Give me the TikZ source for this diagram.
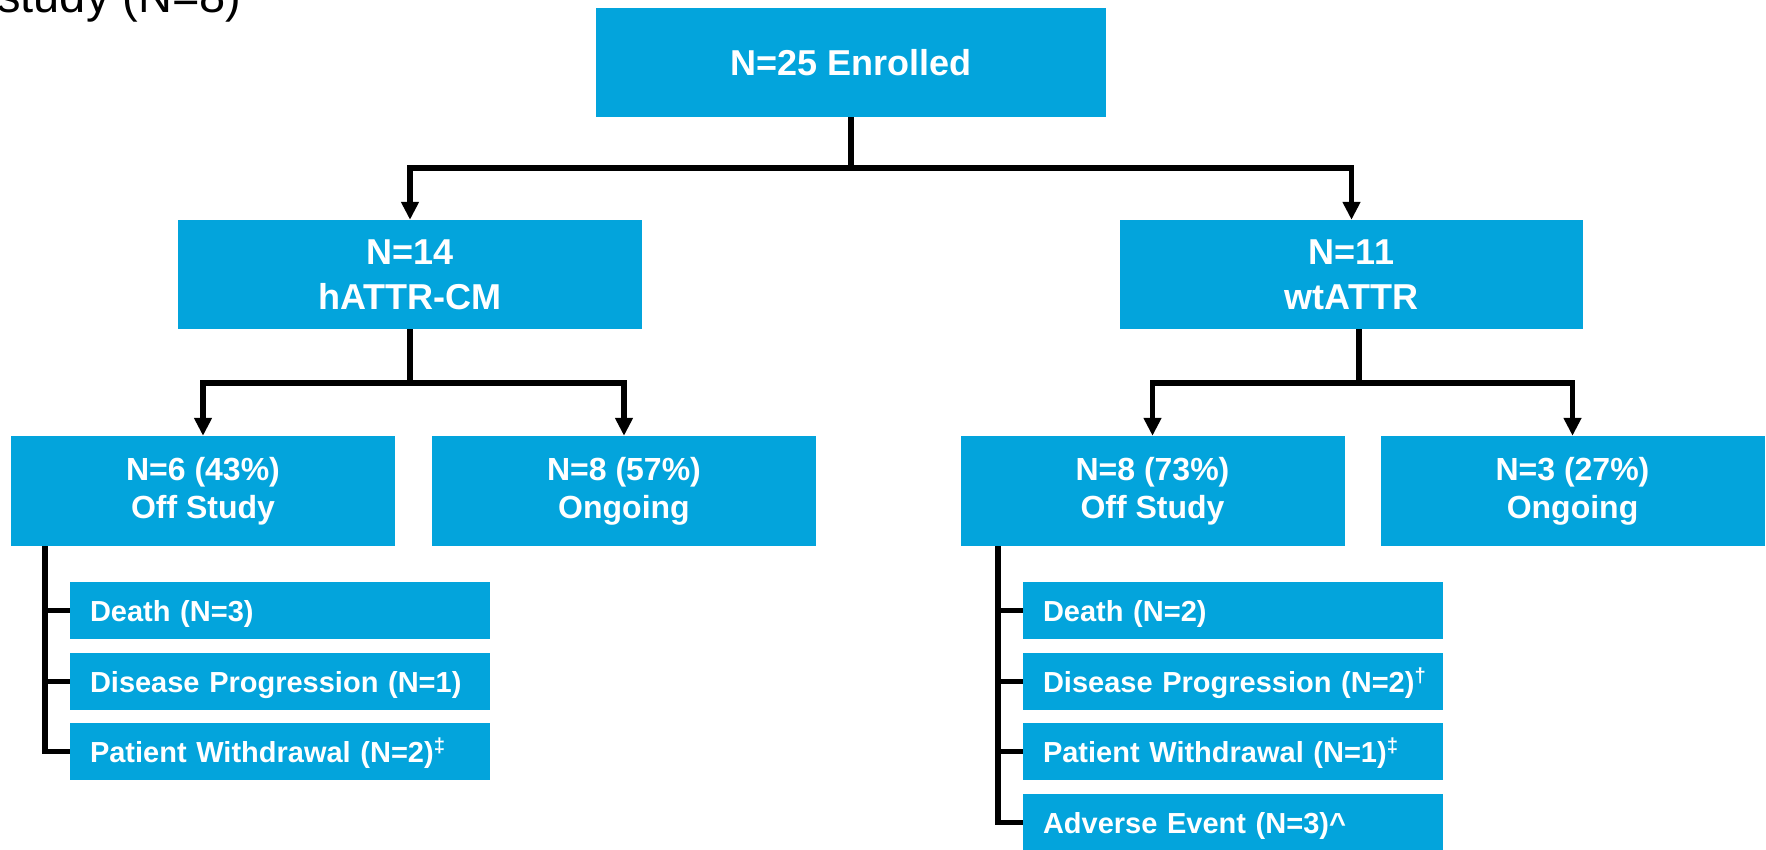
\documentclass[tikz,border=0pt]{standalone}
\usepackage{fontspec}
\setmainfont{Liberation Sans}
\usetikzlibrary{arrows.meta}
\definecolor{boxblue}{HTML}{03A4DC}
\begin{document}
\begin{tikzpicture}[x=1pt,y=-1pt,
  box/.style={fill=boxblue, text=white, align=center, inner sep=0pt},
  big/.style={box, font=\bfseries\fontsize{36}{45}\selectfont, minimum height=109pt},
  mid/.style={box, font=\bfseries\fontsize{32}{38}\selectfont, minimum height=110pt, minimum width=384pt},
  reason/.style={box, align=left, text width=380pt, inner xsep=20pt, inner ysep=0pt,
     minimum height=57pt, font=\bfseries\fontsize{29}{34}\selectfont, text height=21pt, text depth=0pt},
  conn/.style={line width=5.5pt, draw=black},
  arr/.style={conn, -{Triangle[length=18pt,width=17pt]}}
]
\useasboundingbox (0,0) rectangle (1766,849);

\node[anchor=base west, inner sep=0pt, font=\fontsize{47}{56}\selectfont] (cap) at (-3,12) {study (N=8)};

\node[big, minimum width=510pt] (top) at (851,62.5) {N=25 Enrolled};
\node[big, minimum width=464pt] (hattr) at (410,274.5) {N=14\\hATTR-CM};
\node[big, minimum width=463pt] (wt) at (1351.5,274.5) {N=11\\wtATTR};

\node[mid] (off1) at (203,491) {N=6 (43\%)\\Off Study};
\node[mid] (on1) at (624,491) {N=8 (57\%)\\Ongoing};
\node[mid] (off2) at (1152.5,491) {N=8 (73\%)\\Off Study};
\node[mid] (on2) at (1572.5,491) {N=3 (27\%)\\Ongoing};

\node[reason] (l1) at (280,610.5) {Death (N=3)};
\node[reason] (l2) at (280,681.5) {Disease Progression (N=1)};
\node[reason] (l3) at (280,751.5) {Patient Withdrawal (N=2)\rlap{\textsuperscript{‡}}};

\node[reason] (r1) at (1233,610.5) {Death (N=2)};
\node[reason] (r2) at (1233,681.5) {Disease Progression (N=2)\rlap{\textsuperscript{†}}};
\node[reason] (r3) at (1233,751.5) {Patient Withdrawal (N=1)\rlap{\textsuperscript{‡}}};
\node[reason] (r4) at (1233,822.5) {Adverse Event (N=3)\rlap{\textasciicircum}};

% level 1
\draw[arr] (top.south) -- ++(0,51) -| (hattr.north);
\draw[arr] (top.south) -- ++(0,51) -| (wt.north);
% level 2
\draw[arr] (hattr.south) -- ++(0,54) -| (off1.north);
\draw[arr] (hattr.south) -- ++(0,54) -| (on1.north);
\draw[arr] ([xshift=7.5pt]wt.south) -- ++(0,54) -| (off2.north);
\draw[arr] ([xshift=7.5pt]wt.south) -- ++(0,54) -| (on2.north);
% brackets
\coordinate (bl) at ([xshift=34pt]off1.south west);
\draw[conn] (bl) |- (l3.west);
\draw[conn] (bl |- l1.west) -- (l1.west);
\draw[conn] (bl |- l2.west) -- (l2.west);
\coordinate (br) at ([xshift=37.5pt]off2.south west);
\draw[conn] (br) |- (r4.west);
\draw[conn] (br |- r1.west) -- (r1.west);
\draw[conn] (br |- r2.west) -- (r2.west);
\draw[conn] (br |- r3.west) -- (r3.west);
\end{tikzpicture}
\end{document}
